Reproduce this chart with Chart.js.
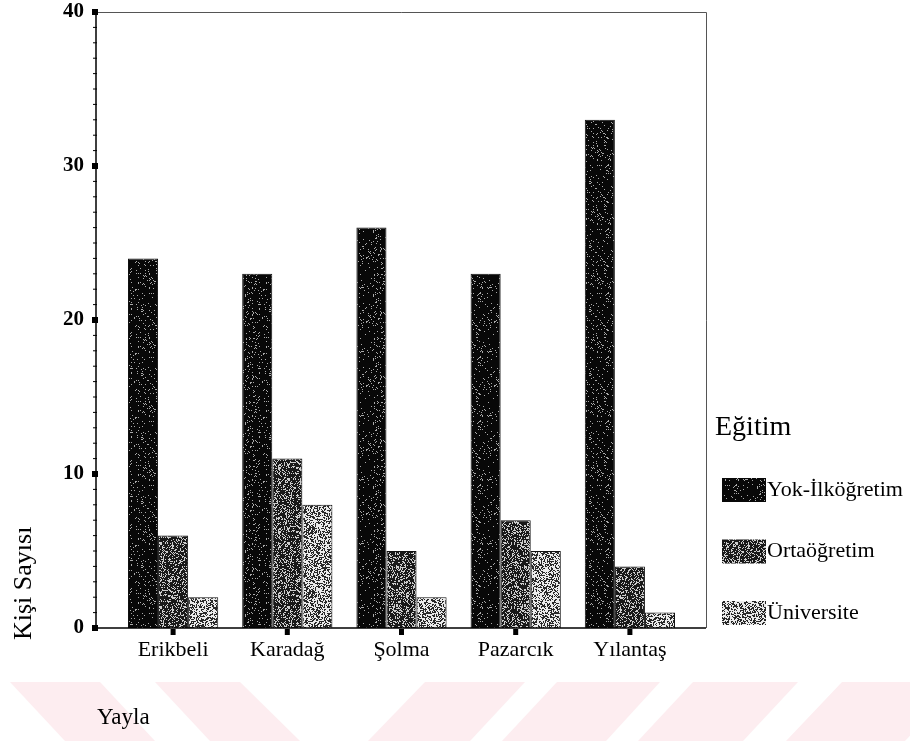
<!DOCTYPE html>
<html>
<head>
<meta charset="utf-8">
<script src="https://cdn.jsdelivr.net/npm/chart.js@4.4.1/dist/chart.umd.min.js"></script>
<style>
html, body { margin: 0; padding: 0; background: #fff; }
canvas { display: block; }
</style>
</head>
<body>
<canvas id="egitimChart" width="910" height="741"></canvas>
<script>
// data
const categories = ['Erikbeli', 'Karadağ', 'Şolma', 'Pazarcık', 'Yılantaş'];
const yokIlkogretim = [24, 23, 26, 23, 33];
const ortaogretim = [6, 11, 5, 7, 4];
const universite = [2, 8, 2, 5, 1];
const seriesNames = ['Yok-İlköğretim', 'Ortaöğretim', 'Üniversite'];
const yTicks = [0, 10, 20, 30, 40];

const FONT = "'Liberation Serif', 'Times New Roman', serif";
const canvas = document.getElementById('egitimChart');
const mainCtx = canvas.getContext('2d');

// speckled grey fill like the scanned print
function speckle(base, dot, density, seed) {
    const c = document.createElement('canvas');
    c.width = 64; c.height = 64;
    const g = c.getContext('2d');
    const img = g.createImageData(64, 64);
    let s = seed;
    for (let i = 0; i < 64 * 64; i++) {
        s = (Math.imul(s, 1103515245) + 12345) >>> 0;
        const v = ((s >>> 16) / 65536) < density ? dot : base;
        img.data[i * 4] = img.data[i * 4 + 1] = img.data[i * 4 + 2] = v;
        img.data[i * 4 + 3] = 255;
    }
    g.putImageData(img, 0, 0);
    return mainCtx.createPattern(c, 'repeat');
}

const fills = [
    speckle(8, 170, 0.07, 11),
    speckle(25, 205, 0.30, 23),
    speckle(235, 40, 0.45, 37)
];

// frame, ticks, titles, legend and the pink watermark band
const framePlugin = {
    id: 'frame',
    beforeDraw(chart) {
        const ctx = chart.ctx;
        ctx.save();
        ctx.fillStyle = '#fff';
        ctx.fillRect(0, 0, chart.width, chart.height);
        ctx.fillStyle = '#fdedf0';
        const top = 682, bot = chart.height;
        [[10, 100, 155, 65], [155, 240, 300, 210], [425, 525, 470, 368],
         [557, 660, 606, 502], [693, 798, 743, 638], [842, 960, 905, 786]].forEach(q => {
            ctx.beginPath();
            ctx.moveTo(q[0], top); ctx.lineTo(q[1], top);
            ctx.lineTo(q[2], bot); ctx.lineTo(q[3], bot);
            ctx.closePath(); ctx.fill();
        });
        ctx.restore();
    },
    afterDraw(chart) {
        const {ctx, chartArea: a, scales: {x, y}} = chart;
        const left = a.left - 20, right = a.right + 19, top = a.top, bottom = a.bottom;
        ctx.save();
        ctx.strokeStyle = '#555';
        ctx.lineWidth = 1;
        ctx.beginPath();
        ctx.moveTo(left, top + 0.5); ctx.lineTo(right + 0.5, top + 0.5); ctx.lineTo(right + 0.5, bottom);
        ctx.stroke();
        ctx.strokeStyle = '#000';
        ctx.lineWidth = 1.5;
        ctx.beginPath();
        ctx.moveTo(left, top); ctx.lineTo(left, bottom); ctx.lineTo(right, bottom);
        ctx.stroke();

        ctx.fillStyle = '#000';
        for (let v = y.min; v <= y.max; v++) {
            const py = y.getPixelForValue(v);
            if (v % 10 === 0) ctx.fillRect(left - 4, py - 3, 6, 6);
            else ctx.fillRect(left - 3, py - 0.5, 4, 1);
        }
        categories.forEach((c, i) => {
            const px = x.getPixelForValue(i);
            ctx.fillRect(px - 2.5, bottom + 1, 5, 6);
        });

        // axis titles
        ctx.font = '23px ' + FONT;
        ctx.textAlign = 'left';
        ctx.textBaseline = 'alphabetic';
        ctx.fillText('Yayla', left + 1, 724);
        ctx.save();
        ctx.translate(31, 640);
        ctx.rotate(-Math.PI / 2);
        ctx.font = '26px ' + FONT;
        ctx.fillText('Kişi Sayısı', 0, 0);
        ctx.restore();

        // legend
        ctx.font = '28px ' + FONT;
        ctx.fillText('Eğitim', right + 9, 435);
        ctx.font = '22px ' + FONT;
        ctx.textBaseline = 'middle';
        chart.data.datasets.forEach((ds, i) => {
            const by = 478 + i * 61.5;
            ctx.fillStyle = ds.backgroundColor;
            ctx.fillRect(right + 16, by, 44, 24);
            ctx.fillStyle = '#000';
            ctx.fillText(ds.label, right + 61, by + 12);
        });
        ctx.restore();
    }
};

new Chart(canvas, {
    type: 'bar',
    data: {
        labels: categories,
        datasets: [{
            label: seriesNames[0],
            data: yokIlkogretim,
            backgroundColor: fills[0]
        }, {
            label: seriesNames[1],
            data: ortaogretim,
            backgroundColor: fills[1]
        }, {
            label: seriesNames[2],
            data: universite,
            backgroundColor: fills[2]
        }]
    },
    options: {
        responsive: false,
        animation: false,
        devicePixelRatio: 1,
        layout: { padding: { left: 0, top: 12, right: 223, bottom: 11 } },
        datasets: {
            bar: { categoryPercentage: 0.79, barPercentage: 1, borderColor: '#111', borderWidth: 1 }
        },
        plugins: {
            legend: { display: false },
            tooltip: { enabled: false }
        },
        scales: {
            x: {
                grid: { display: false, drawTicks: false },
                border: { display: false },
                ticks: { font: { family: FONT, size: 22 }, color: '#000', padding: 9 },
                afterFit: s => { s.height = 102; }
            },
            y: {
                min: 0,
                max: 40,
                grid: { display: false, drawTicks: false },
                border: { display: false },
                ticks: { font: { family: FONT, size: 21, weight: 'bold' }, color: '#000', padding: 32 },
                afterFit: s => { s.width = 116; s.paddingTop = 12; s.paddingBottom = 12; },
                afterBuildTicks: s => { s.ticks = yTicks.map(v => ({ value: v })); }
            }
        }
    },
    plugins: [framePlugin]
});
</script>
</body>
</html>
